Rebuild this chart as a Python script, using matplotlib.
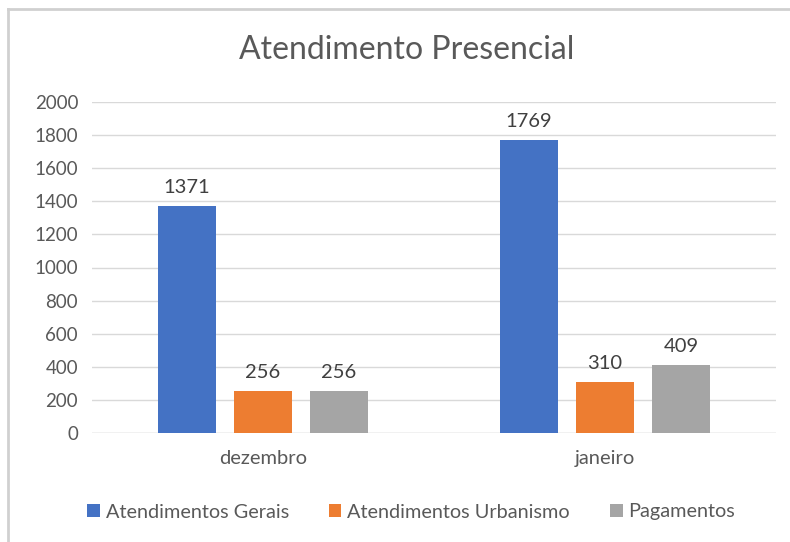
import matplotlib.pyplot as plt
from matplotlib.lines import Line2D
from matplotlib.patches import Patch
import numpy as np

meses = ['dezembro', 'janeiro']
series = ['Atendimentos Gerais', 'Atendimentos Urbanismo', 'Pagamentos']
gerais = [1371, 1769]
urbanismo = [256, 310]
pagamentos = [256, 409]
cores = ['#4472C4', '#ED7D31', '#A5A5A5']

plt.rcParams['font.family'] = ['Lato', 'DejaVu Sans']
texto = '#595959'

fig = plt.figure(figsize=(7.9, 5.42), dpi=100)
ax = fig.add_axes([92 / 790, 109 / 542, 684 / 790, 331 / 542])

x = np.arange(len(meses))
largura = 0.172
passo = 0.222
for i, (vals, cor) in enumerate(zip([gerais, urbanismo, pagamentos], cores)):
    pos = x + (i - 1) * passo
    barras = ax.bar(pos, vals, width=largura, color=cor, zorder=3)
    for b, v in zip(barras, vals):
        ax.text(b.get_x() + b.get_width() / 2, v + 60, str(v), ha='center', va='bottom',
                fontsize=14.5, color='#404040')

ax.set_xlim(-0.5, 1.5)
ax.set_ylim(0, 2000)
ax.set_yticks(range(0, 2001, 200))
ax.set_xticks(x)
ax.set_xticklabels(meses)
ax.tick_params(axis='both', length=0, labelsize=13.5, colors=texto)
ax.tick_params(axis='x', labelsize=14.5, pad=12)
ax.tick_params(axis='y', pad=10)
ax.grid(axis='y', color='#d9d9d9', linewidth=1, zorder=0)
for s in ax.spines.values():
    s.set_visible(False)
ax.axhline(0, color='#d9d9d9', linewidth=1, zorder=1)

fig.text(407 / 790, (542 - 50) / 542, 'Atendimento Presencial', ha='center', va='center',
         fontsize=23, color=texto)

handles = [Patch(facecolor=c, edgecolor='none') for c in cores]
fig.legend(handles, series, loc='center', bbox_to_anchor=(411 / 790, (542 - 512) / 542),
           ncol=3, frameon=False, fontsize=14.3, labelcolor=texto,
           handlelength=0.65, handleheight=0.65, handletextpad=0.3, columnspacing=2.0)

# moldura do gráfico
fig.add_artist(Line2D([8 / 790, 1], [1 - 9 / 542, 1 - 9 / 542], color='#d0d0d0', linewidth=2,
                      transform=fig.transFigure))
fig.add_artist(Line2D([8 / 790, 8 / 790], [0, 1 - 9 / 542], color='#d0d0d0', linewidth=2,
                      transform=fig.transFigure))

fig.savefig('out.png', dpi=100)
